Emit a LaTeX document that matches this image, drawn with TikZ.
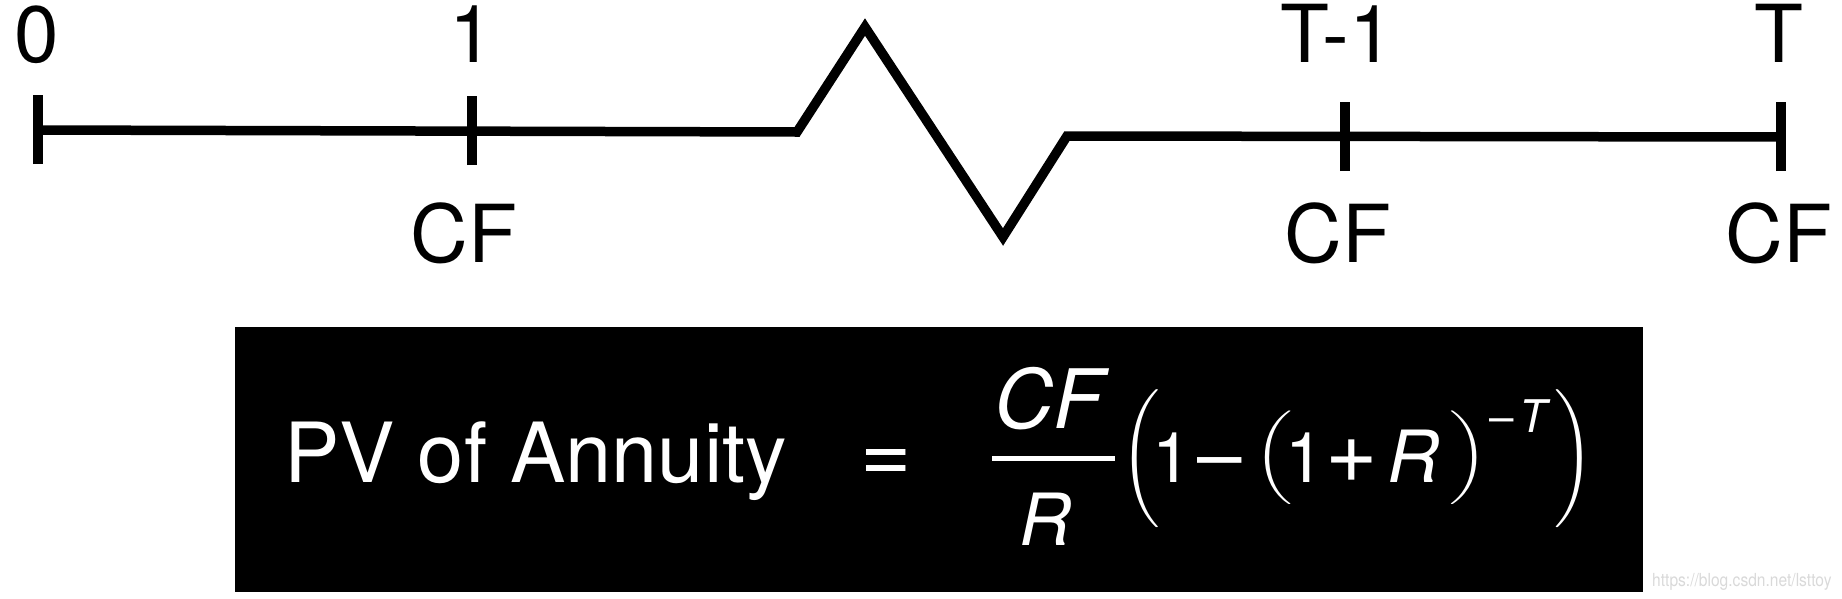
\documentclass[tikz,border=0pt]{standalone}
\usepackage{fontspec}
\setmainfont{TeX Gyre Heros}
\usepackage{graphicx}
\newcommand\myparen[3]{{\nulldelimiterspace=0pt\scalebox{#1}[#2]{$#3$}}}
\begin{document}
\begin{tikzpicture}[x=1pt,y=-1pt,
  tline/.style={line width=9.5pt, line join=miter},
  tickmark/.style={line width=10pt},
  lbl/.style={font=\fontsize{80}{90}\selectfont, inner sep=0pt, anchor=base},
  wtxt/.style={text=white, inner sep=0pt},
  mtxt/.style={wtxt, anchor=base},
]
\useasboundingbox (0,0) rectangle (1842,598);
% timeline coordinates
\coordinate (p0) at (38,130);
\coordinate (p1) at (472,131);
\coordinate (z0) at (797,132);
\coordinate (z1) at (865,27);
\coordinate (z2) at (1003,237);
\coordinate (z3) at (1067,136);
\coordinate (pT1) at (1345,137);
\coordinate (pT) at (1781,137);
\draw[tline] (p0) -- (z0) -- (z1) -- (z2) -- (z3) -- (pT);
\foreach \c in {p0,p1,pT1,pT}{
  \draw[tickmark] ([yshift=-34pt]\c) -- ([yshift=35pt]\c);
}
% labels
\node[lbl] (l0) at (37,62) {0};
\node[lbl] (l1) at (472,62) {1};
\node[lbl] (lT1) at (1337,62) {T-1};
\node[lbl] (lT) at (1779,62) {T};
\node[lbl] (cf1) at (464,262) {CF};
\node[lbl] (cf2) at (1338,262) {CF};
\node[lbl] (cf3) at (1779,262) {CF};
% formula box
\node[fill=black, minimum width=1408pt, minimum height=265pt, inner sep=0pt, anchor=north west] (box) at (235,327) {};
\node[wtxt, anchor=base west, font=\fontsize{83}{90}\selectfont] (pv) at (284,482) {PV of Annuity};
\node[mtxt, font=\fontsize{88}{90}\selectfont] (eq) at (886,482) {=};
\node[mtxt, font=\fontsize{82}{90}\selectfont\itshape] (num) at (1049,428) {CF};
\coordinate (barL) at (992,458);
\coordinate (barR) at (1115,458);
\draw[white, line width=5pt] (barL) -- (barR);
\node[mtxt, font=\fontsize{72}{80}\selectfont\itshape] (den) at (1045,545) {R};
\node[wtxt] (bpl) at (1140,459) {\myparen{5.0}{4.6}{\Biggl(}};
\node[mtxt, font=\fontsize{70}{80}\selectfont] (one1) at (1172,482) {1};
\node[mtxt, font=\fontsize{80}{90}\selectfont] (minus1) at (1220,482) {–};
\node[wtxt] (spl) at (1274,458) {\myparen{5.2}{3.9}{\biggl(}};
\node[mtxt, font=\fontsize{70}{80}\selectfont] (one2) at (1305,482) {1};
\node[mtxt, font=\fontsize{90}{90}\selectfont] (plus) at (1352,482) {+};
\node[mtxt, font=\fontsize{72}{80}\selectfont\itshape] (r1) at (1413,482) {R};
\node[wtxt] (spr) at (1469,458) {\myparen{5.2}{3.9}{\biggr)}};
\node[mtxt, font=\fontsize{44}{50}\selectfont] (minus2) at (1502,432) {–};
\node[mtxt, font=\fontsize{45}{50}\selectfont\itshape] (supT) at (1533,432) {T};
\node[wtxt] (bpr) at (1574,459) {\myparen{5.0}{4.6}{\Biggr)}};
% watermark
\node[inner sep=0pt, anchor=base west, text=black!15, font=\fontsize{18}{20}\selectfont] (wm) at (1652,586) {\scalebox{0.865}[1]{https://blog.csdn.net/lsttoy}};
\end{tikzpicture}
\end{document}
